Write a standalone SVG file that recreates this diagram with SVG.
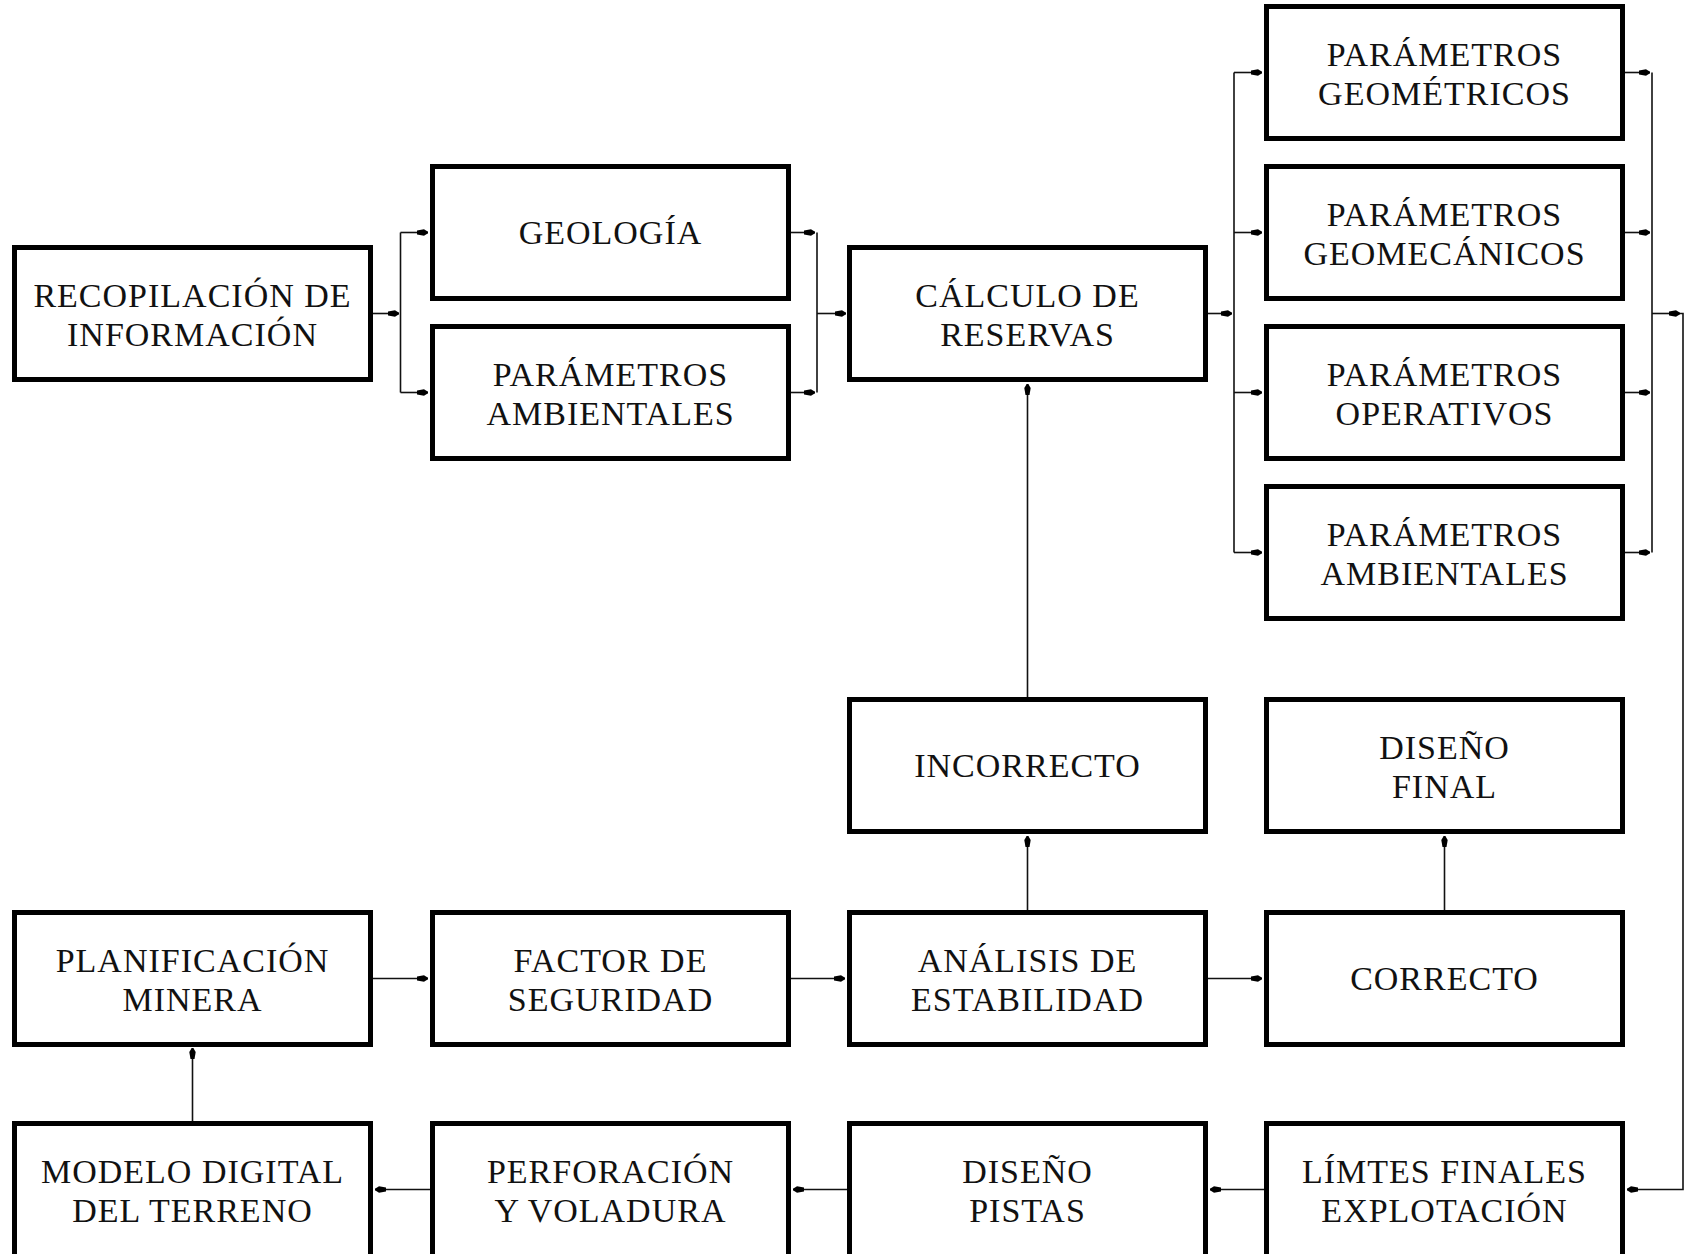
<svg xmlns="http://www.w3.org/2000/svg" width="1689" height="1254" viewBox="0 0 1689 1254">
<style>
.box rect{fill:#fff;stroke:#000;stroke-width:5}
.box text{font-family:'Liberation Serif','Times New Roman','DejaVu Serif',serif;font-size:34px;fill:#111;text-anchor:middle;letter-spacing:1px}
.conn path{fill:none;stroke:#111;stroke-width:1.6}
.conn path.a{marker-end:url(#ah)}
</style>
<defs>
<marker id="ah" markerUnits="userSpaceOnUse" viewBox="0 -3.5 11 7" markerWidth="11" markerHeight="7" refX="11" refY="0" orient="auto">
<path d="M0,-2 L7,-3.2 L11,-0.8 L11,0.8 L7,3.2 L0,2 Z" fill="#000"/>
</marker>
</defs>
<rect width="1689" height="1254" fill="#fff"/>
<g class="conn" id="connectors">
<path class="a" d="M373,313.5 H399"/>
<path d="M400.5,232.5 V392.5"/>
<path class="a" d="M400.5,232.5 H428"/>
<path class="a" d="M400.5,392.5 H428"/>
<path class="a" d="M791,232.5 H815"/>
<path class="a" d="M791,392.5 H815"/>
<path d="M817,232.5 V392.5"/>
<path class="a" d="M817,313.5 H846"/>
<path class="a" d="M1208,313.5 H1232"/>
<path d="M1234,72.5 V552.5"/>
<path class="a" d="M1234,72.5 H1262"/>
<path class="a" d="M1234,232.5 H1262"/>
<path class="a" d="M1234,392.5 H1262"/>
<path class="a" d="M1234,552.5 H1262"/>
<path class="a" d="M1625,72.5 H1650"/>
<path class="a" d="M1625,232.5 H1650"/>
<path class="a" d="M1625,392.5 H1650"/>
<path class="a" d="M1625,552.5 H1650"/>
<path d="M1652,72.5 V552.5"/>
<path class="a" d="M1652,313.5 H1680"/>
<path class="a" d="M1680,313.5 H1683 V1189.5 H1627"/>
<path class="a" d="M1264,1189.5 H1210"/>
<path class="a" d="M847,1189.5 H793"/>
<path class="a" d="M430,1189.5 H375"/>
<path class="a" d="M192.5,1121 V1048"/>
<path class="a" d="M373,978.5 H428"/>
<path class="a" d="M791,978.5 H845"/>
<path class="a" d="M1208,978.5 H1262"/>
<path class="a" d="M1027.5,910 V836"/>
<path class="a" d="M1027.5,697 V384"/>
<path class="a" d="M1444.5,910 V836"/>
</g>
<g class="box" id="recopilacion"><rect x="14.5" y="247.5" width="356" height="132"/><text x="192.5" y="306.5">RECOPILACIÓN DE</text><text x="192.5" y="345.5">INFORMACIÓN</text></g>
<g class="box" id="geologia"><rect x="432.5" y="166.5" width="356" height="132"/><text x="610.5" y="243.5">GEOLOGÍA</text></g>
<g class="box" id="param-ambientales-1"><rect x="432.5" y="326.5" width="356" height="132"/><text x="610.5" y="385.5">PARÁMETROS</text><text x="610.5" y="424.5">AMBIENTALES</text></g>
<g class="box" id="calculo-reservas"><rect x="849.5" y="247.5" width="356" height="132"/><text x="1027.5" y="306.5">CÁLCULO DE</text><text x="1027.5" y="345.5">RESERVAS</text></g>
<g class="box" id="param-geometricos"><rect x="1266.5" y="6.5" width="356" height="132"/><text x="1444.5" y="65.5">PARÁMETROS</text><text x="1444.5" y="104.5">GEOMÉTRICOS</text></g>
<g class="box" id="param-geomecanicos"><rect x="1266.5" y="166.5" width="356" height="132"/><text x="1444.5" y="225.5">PARÁMETROS</text><text x="1444.5" y="264.5">GEOMECÁNICOS</text></g>
<g class="box" id="param-operativos"><rect x="1266.5" y="326.5" width="356" height="132"/><text x="1444.5" y="385.5">PARÁMETROS</text><text x="1444.5" y="424.5">OPERATIVOS</text></g>
<g class="box" id="param-ambientales-2"><rect x="1266.5" y="486.5" width="356" height="132"/><text x="1444.5" y="545.5">PARÁMETROS</text><text x="1444.5" y="584.5">AMBIENTALES</text></g>
<g class="box" id="incorrecto"><rect x="849.5" y="699.5" width="356" height="132"/><text x="1027.5" y="776.5">INCORRECTO</text></g>
<g class="box" id="diseno-final"><rect x="1266.5" y="699.5" width="356" height="132"/><text x="1444.5" y="758.5">DISEÑO</text><text x="1444.5" y="797.5">FINAL</text></g>
<g class="box" id="planificacion"><rect x="14.5" y="912.5" width="356" height="132"/><text x="192.5" y="971.5">PLANIFICACIÓN</text><text x="192.5" y="1010.5">MINERA</text></g>
<g class="box" id="factor-seguridad"><rect x="432.5" y="912.5" width="356" height="132"/><text x="610.5" y="971.5">FACTOR DE</text><text x="610.5" y="1010.5">SEGURIDAD</text></g>
<g class="box" id="analisis-estabilidad"><rect x="849.5" y="912.5" width="356" height="132"/><text x="1027.5" y="971.5">ANÁLISIS DE</text><text x="1027.5" y="1010.5">ESTABILIDAD</text></g>
<g class="box" id="correcto"><rect x="1266.5" y="912.5" width="356" height="132"/><text x="1444.5" y="989.5">CORRECTO</text></g>
<g class="box" id="modelo-digital"><rect x="14.5" y="1123.5" width="356" height="134"/><text x="192.5" y="1182.5">MODELO DIGITAL</text><text x="192.5" y="1221.5">DEL TERRENO</text></g>
<g class="box" id="perforacion"><rect x="432.5" y="1123.5" width="356" height="134"/><text x="610.5" y="1182.5">PERFORACIÓN</text><text x="610.5" y="1221.5">Y VOLADURA</text></g>
<g class="box" id="diseno-pistas"><rect x="849.5" y="1123.5" width="356" height="134"/><text x="1027.5" y="1182.5">DISEÑO</text><text x="1027.5" y="1221.5">PISTAS</text></g>
<g class="box" id="limites-finales"><rect x="1266.5" y="1123.5" width="356" height="134"/><text x="1444.5" y="1182.5">LÍMTES FINALES</text><text x="1444.5" y="1221.5">EXPLOTACIÓN</text></g>
</svg>
